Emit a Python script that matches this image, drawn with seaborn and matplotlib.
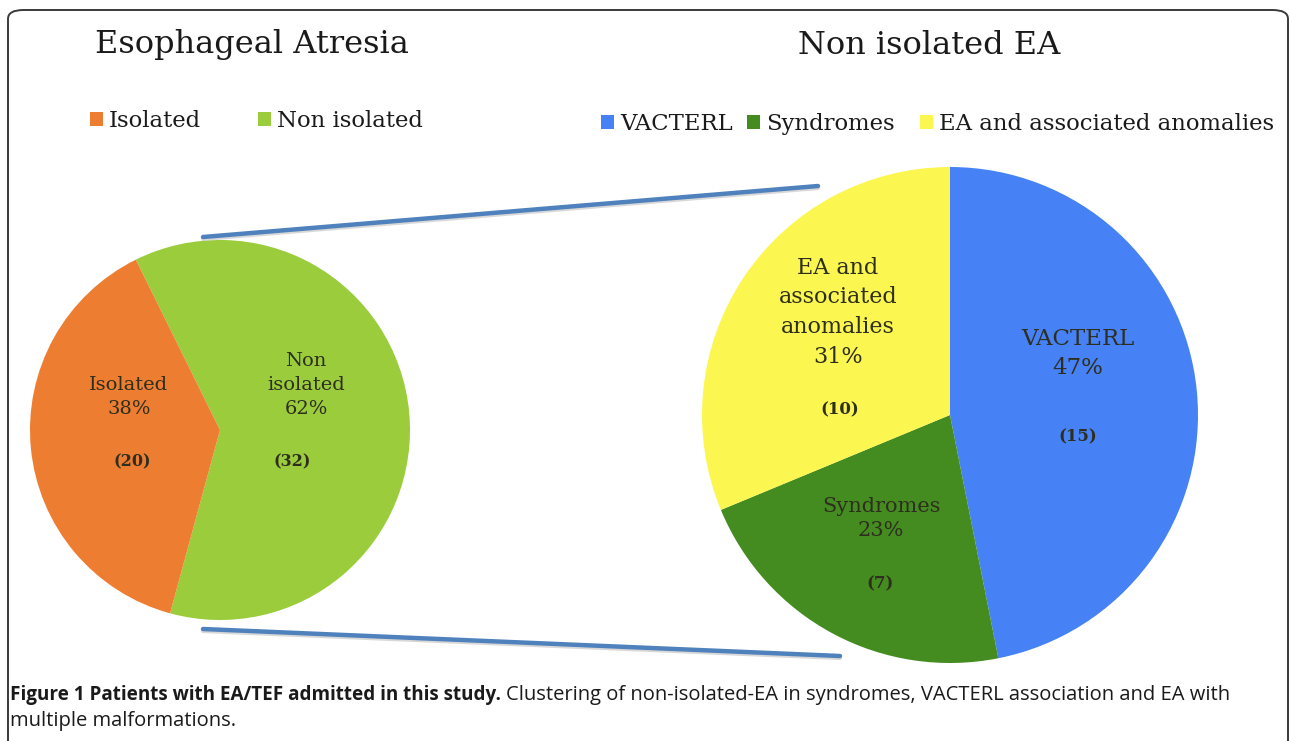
import matplotlib
matplotlib.use("Agg")
import matplotlib.pyplot as plt
from matplotlib.patches import FancyBboxPatch
from matplotlib.lines import Line2D
import seaborn as sns

sns.set_style("white")
plt.rcParams['font.family'] = ['DejaVu Serif']

# Data
ea_labels = ["Isolated", "Non isolated"]
ea_counts = [20, 32]
ea_pct = ["38%", "62%"]

nie_labels = ["VACTERL", "Syndromes", "EA and associated anomalies"]
nie_counts = [15, 7, 10]
nie_pct = ["47%", "23%", "31%"]

ea_colors = ['#ED7D31', '#9ACC3C']
nie_colors = ['#4682F5', '#448C20', '#FBF750']

W, H = 1290, 741
fig = plt.figure(figsize=(W / 100, H / 100), dpi=100)


def px_axes(cx, cy, r):
    return fig.add_axes([(cx - r) / W, (H - cy - r) / H, 2 * r / W, 2 * r / H])


# Frame around the figure
frame = FancyBboxPatch((8 / W, -20 / H), (W - 10) / W, (H + 10) / H,
                       boxstyle="round,pad=0,rounding_size=0.012",
                       transform=fig.transFigure, fill=False,
                       edgecolor='#3a3a3a', linewidth=1.4)
fig.patches.append(frame)

txt_color = '#2e2e1e'

# Left pie: Esophageal Atresia (Non isolated first, clockwise)
ax1 = px_axes(220, 430, 190)
w1, _ = ax1.pie([ea_counts[1], ea_counts[0]],
                colors=[ea_colors[1], ea_colors[0]],
                startangle=116.3, counterclock=False, radius=1,
                wedgeprops=dict(linewidth=0))
ax1.set_xlim(-1, 1)
ax1.set_ylim(-1, 1)
ax1.set_aspect('equal')
ax1.axis('off')

lab_kw = dict(ha='center', va='center', color=txt_color, linespacing=1.45)
ax1.text(-0.479, 0.174, f"{ea_labels[0]}\n{ea_pct[0]}", fontsize=14, **lab_kw)
ax1.text(-0.463, -0.168, f"({ea_counts[0]})", fontsize=11.5, fontweight='bold', **lab_kw)
ax1.text(0.453, 0.237, f"Non\nisolated\n{ea_pct[1]}", fontsize=14, **lab_kw)
ax1.text(0.379, -0.168, f"({ea_counts[1]})", fontsize=11.5, fontweight='bold', **lab_kw)

# Right pie: Non isolated EA
ax2 = px_axes(950, 415, 248)
w2, _ = ax2.pie(nie_counts, colors=nie_colors, startangle=90,
                counterclock=False, radius=1, wedgeprops=dict(linewidth=0))
ax2.set_xlim(-1, 1)
ax2.set_ylim(-1, 1)
ax2.set_aspect('equal')
ax2.axis('off')

ax2.text(0.516, 0.248, f"{nie_labels[0]}\n{nie_pct[0]}", fontsize=16.5, **lab_kw)
ax2.text(0.516, -0.089, f"({nie_counts[0]})", fontsize=12, fontweight='bold', **lab_kw)
ax2.text(-0.278, -0.417, f"{nie_labels[1]}\n{nie_pct[1]}", fontsize=15,
         ha='center', va='center', color=txt_color, linespacing=1.3)
ax2.text(-0.282, -0.68, f"({nie_counts[1]})", fontsize=12, fontweight='bold', **lab_kw)
ax2.text(-0.452, 0.415, "EA and\nassociated\nanomalies\n" + nie_pct[2], fontsize=16, **lab_kw)
ax2.text(-0.444, 0.02, f"({nie_counts[2]})", fontsize=12, fontweight='bold', **lab_kw)

# Titles
fig.text(252 / W, 1 - 45 / H, "Esophageal Atresia", fontsize=23, ha='center', va='center', color='#1a1a1a')
fig.text(929 / W, 1 - 45 / H, "Non isolated EA", fontsize=23, ha='center', va='center', color='#1a1a1a')

# Legends: one entry each so the spacing follows the reference
leg_kw = dict(frameon=False, handlelength=0.58, handleheight=0.58, handletextpad=0.26,
              fontsize=16.4, labelcolor='#1a1a1a', borderaxespad=0, borderpad=0,
              loc='center left')
for patch, name, x, y in [(w1[1], ea_labels[0], 90, 121), (w1[0], ea_labels[1], 258, 121),
                          (w2[0], nie_labels[0], 601, 124), (w2[1], nie_labels[1], 747, 124),
                          (w2[2], nie_labels[2], 920, 124)]:
    fig.legend([patch], [name], bbox_to_anchor=(x / W, 1 - y / H), **leg_kw)

# Connector lines between the pies
for (x0, y0), (x1, y1) in [((203, 237), (818, 186)), ((203, 629), (840, 656))]:
    fig.add_artist(Line2D([x0 / W, x1 / W], [1 - (y0 + 2) / H, 1 - (y1 + 2) / H],
                          transform=fig.transFigure, color='#c8c8c8', lw=3, alpha=0.7))
    fig.add_artist(Line2D([x0 / W, x1 / W], [1 - y0 / H, 1 - y1 / H],
                          transform=fig.transFigure, color='#4F81BD', lw=3.2,
                          solid_capstyle='round'))

# Caption
cap_font = ['Open Sans', 'DejaVu Sans']
bold = fig.text(10 / W, 1 - 695 / H, "Figure 1 Patients with EA/TEF admitted in this study.",
                fontsize=13.6, fontweight='bold', family=cap_font, va='center', color='#1a1a1a')
fig.canvas.draw()
bb = bold.get_window_extent()
fig.text((bb.x1 + 5) / W, 1 - 695 / H,
         "Clustering of non-isolated-EA in syndromes, VACTERL association and EA with",
         fontsize=14.5, family=cap_font, va='center', color='#1a1a1a')
fig.text(10 / W, 1 - 721 / H, "multiple malformations.",
         fontsize=14.5, family=cap_font, va='center', color='#1a1a1a')

fig.savefig("out.png", dpi=100)
